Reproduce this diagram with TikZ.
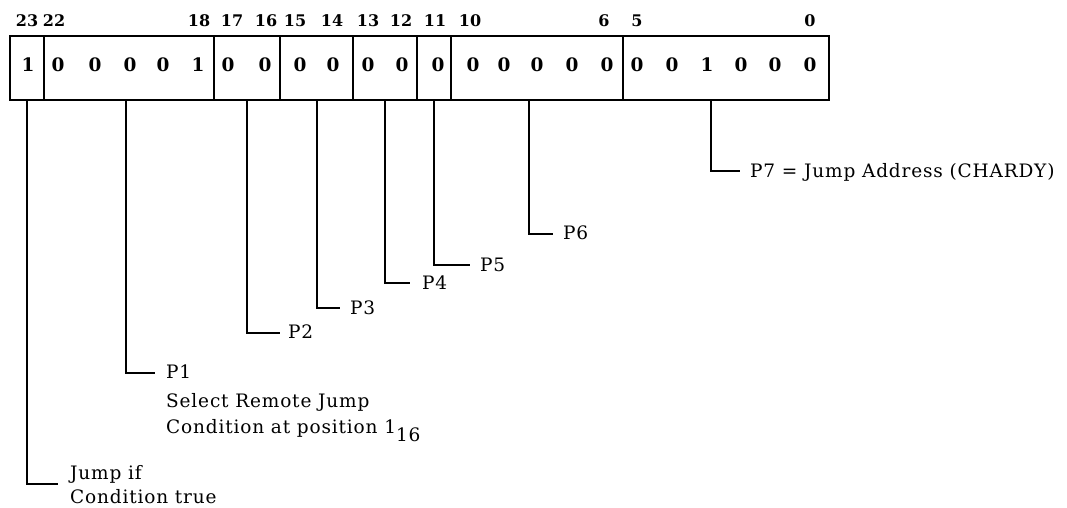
\documentclass[tikz,border=0pt]{standalone}
\usepackage{fontspec}
\setmainfont{DejaVu Serif}
\newfontfamily\lblfont[LetterSpace=4.5]{DejaVu Serif}
\begin{document}
\begin{tikzpicture}[x=1pt,y=-1pt,
  field/.style={draw,line width=2pt,inner sep=0pt,anchor=north west},
  wire/.style={line width=2pt},
  bitno/.style={font=\fontsize{16}{16}\selectfont\bfseries,inner sep=0pt,anchor=base},
  digit/.style={font=\fontsize{18.5}{18.5}\selectfont\bfseries,inner sep=0pt,anchor=base},
  note/.style={font=\fontsize{18.5}{18.5}\lblfont,inner sep=0pt,anchor=base west}
]
\useasboundingbox (0,0) rectangle (1067,508);

% instruction word fields (x from/to)
\foreach \n/\a/\b in {f23/9/43, f22/43/213, f17/213/279, f15/279/352,
                      f13/352/416, f11/416/450, f10/450/622, f5/622/828}{
  \node[field,minimum width={(\b-\a)*1pt},minimum height=64pt] (\n) at (\a,35) {};
}

% bit numbers above the word
\foreach \t/\x in {23/27, 22/54, 18/199, 17/232, 16/266, 15/295, 14/332,
                   13/368, 12/401, 11/435, 10/470, 6/604, 5/637, 0/810}{
  \node[bitno] (b\t) at (\x,27) {\t};
}

% bit contents
\foreach \i/\v/\x in {23/1/28, 22/0/58, 21/0/95, 20/0/130, 19/0/163, 18/1/198,
                      17/0/228, 16/0/265, 15/0/300, 14/0/333, 13/0/368, 12/0/402,
                      11/0/438, 10/0/473, 9/0/504, 8/0/537, 7/0/572, 6/0/607,
                      5/0/637, 4/0/672, 3/1/707, 2/0/741, 1/0/775, 0/0/810}{
  \node[digit] (d\i) at (\x,72) {\v};
}

% leader ends
\coordinate (e23) at (58,484);
\coordinate (e22) at (155,373);
\coordinate (e17) at (280,333);
\coordinate (e15) at (340,308);
\coordinate (e13) at (410,283);
\coordinate (e11) at (470,265);
\coordinate (e10) at (553,234);
\coordinate (e5)  at (740,171);

% leaders from each field
\draw[wire] ([xshift=-0.5pt]f23.south) |- (e23);
\draw[wire] ([xshift=-3pt]f22.south) |- (e22);
\draw[wire] (f17.south) |- (e17);
\draw[wire] (f15.south) |- (e15);
\draw[wire] (f13.south) |- (e13);
\draw[wire] (f11.south) |- (e11);
\draw[wire] ([xshift=-8pt]f10.south) |- (e10);
\draw[wire] ([xshift=-15pt]f5.south) |- (e5);

% labels
\node[note] (j1) at (70,479) {Jump if};
\node[note] (j2) at (70,503) {Condition true};
\node[note] (p1) at (166,378) {P1};
\node[note] (p1a) at (166,407) {Select Remote Jump};
\node[note] (p1b) at (166,433) {Condition at position 1\raisebox{-8pt}{16}};
\node[note] (p2) at (288,338) {P2};
\node[note] (p3) at (350,314) {P3};
\node[note] (p4) at (422,289) {P4};
\node[note] (p5) at (480,271) {P5};
\node[note] (p6) at (563,239) {P6};
\node[note] (p7) at (750,177) {P7 = Jump Address (CHARDY)};
\end{tikzpicture}
\end{document}
